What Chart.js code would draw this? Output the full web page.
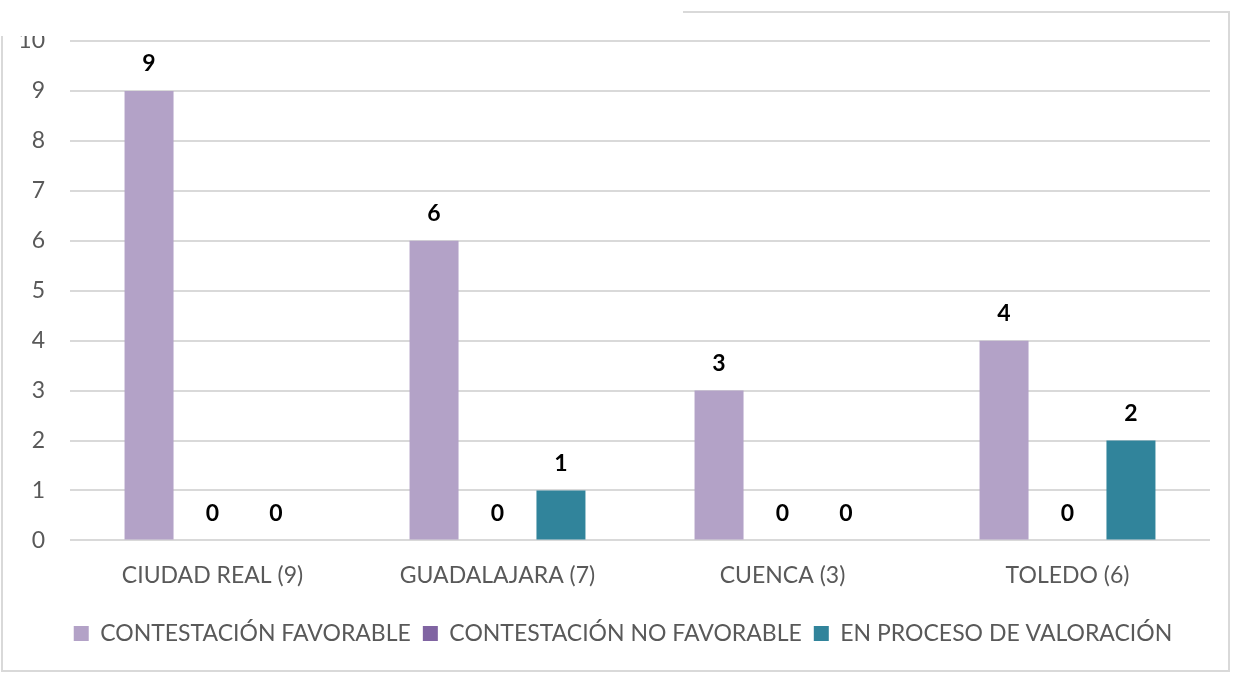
<!DOCTYPE html>
<html>
<head>
<meta charset="utf-8">
<script src="https://cdn.jsdelivr.net/npm/chart.js@4/dist/chart.umd.min.js"></script>
<style>
  body { margin: 0; background: #fff; }
  #frame { position: absolute; left: 1px; top: 11px; width: 1229px; height: 661px; box-sizing: border-box; border: 2px solid #d9d9d9; }
  #wrap { position: absolute; left: 0; top: 0; width: 1240px; height: 675px; }
  #cover { position: absolute; left: 0; top: 0; width: 683px; height: 36px; background: #fff; }
</style>
</head>
<body>
<div id="frame"></div>
<div id="wrap"><canvas id="chart" width="1240" height="675"></canvas></div>
<div id="cover"></div>
<script>
const categories = ["CIUDAD REAL (9)", "GUADALAJARA (7)", "CUENCA (3)", "TOLEDO (6)"];
const favorable = [9, 6, 3, 4];
const noFavorable = [0, 0, 0, 0];
const enProceso = [0, 1, 0, 2];
// zero labels only shown where Excel shows them
const showZero = [[false, false, false, false], [true, true, true, true], [true, false, true, false]];

const fontFamily = "Lato, 'Open Sans', sans-serif";

// data labels above the bars
const valueLabels = {
  id: "valueLabels",
  afterDatasetsDraw(chart) {
    const ctx = chart.ctx;
    ctx.save();
    ctx.font = "bold 23px " + fontFamily;
    ctx.fillStyle = "#000";
    ctx.textAlign = "center";
    ctx.textBaseline = "middle";
    chart.data.datasets.forEach((ds, i) => {
      chart.getDatasetMeta(i).data.forEach((bar, j) => {
        const v = ds.data[j];
        if (v === 0 && !showZero[i][j]) return;
        ctx.fillText(String(v), bar.x, bar.y - 27);
      });
    });
    ctx.restore();
  },
};

// the Excel legend sits a bit right of the canvas centre
const legendShift = {
  id: "legendShift",
  afterLayout(chart) {
    chart.legend.left += 18;
    chart.legend.right += 18;
  },
};

new Chart(document.getElementById("chart"), {
  type: "bar",
  data: {
    labels: categories,
    datasets: [
      { label: "CONTESTACIÓN FAVORABLE", data: favorable, backgroundColor: "#b3a2c7" },
      { label: "CONTESTACIÓN NO FAVORABLE", data: noFavorable, backgroundColor: "#8064a2" },
      { label: "EN PROCESO DE VALORACIÓN", data: enProceso, backgroundColor: "#31849b" },
    ],
  },
  options: {
    responsive: false,
    animation: false,
    devicePixelRatio: 1,
    datasets: { bar: { categoryPercentage: 0.668, barPercentage: 0.772 } },
    layout: { padding: { left: 0, right: 30, top: 41, bottom: 20 } },
    plugins: {
      tooltip: { enabled: false },
      legend: {
        position: "bottom",
        labels: {
          font: { family: fontFamily, size: 23 },
          color: "#595959",
          boxWidth: 15,
          boxHeight: 15,
          padding: 12,
        },
      },
    },
    scales: {
      x: {
        grid: { display: false, drawTicks: false },
        border: { display: false },
        ticks: { font: { family: fontFamily, size: 23 }, color: "#595959", padding: 21, maxRotation: 0 },
      },
      y: {
        min: 0,
        max: 10,
        grid: { color: "#d9d9d9", lineWidth: 2, drawTicks: false },
        border: { display: false },
        ticks: { stepSize: 1, font: { family: fontFamily, size: 23 }, color: "#595959", padding: 25 },
        afterFit: (scale) => { scale.width = 70; },
      },
    },
  },
  plugins: [valueLabels, legendShift],
});
</script>
</body>
</html>
